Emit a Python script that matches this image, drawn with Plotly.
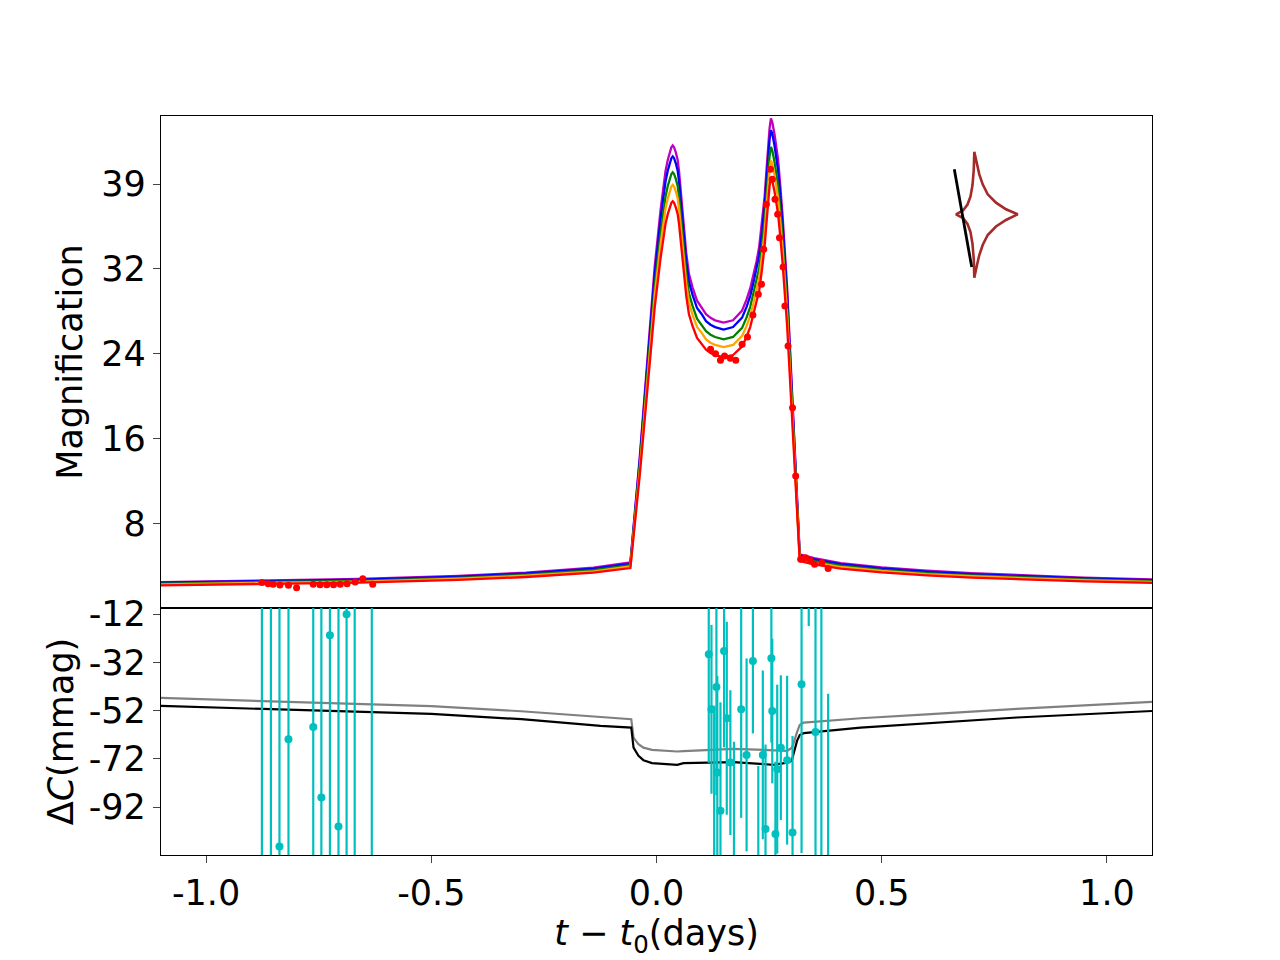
import plotly.graph_objects as go

# ---------------- model light curves (top panel) ----------------
t_model = [-1.1, -0.88, -0.66, -0.44, -0.29, -0.14, -0.058,
           -0.037, -0.017, -0.004, 0.009, 0.015, 0.02, 0.025, 0.029, 0.033, 0.036,
           0.039, 0.043, 0.047, 0.05, 0.055, 0.061, 0.066, 0.072, 0.08, 0.09,
           0.1, 0.11, 0.12, 0.13, 0.149, 0.17, 0.19, 0.2, 0.208, 0.215,
           0.222, 0.228, 0.234, 0.24, 0.244, 0.248, 0.251, 0.254, 0.257, 0.262,
           0.266, 0.27, 0.275, 0.28, 0.29, 0.30, 0.31,
           0.318, 0.35, 0.409, 0.5, 0.6, 0.7, 0.8, 0.95, 1.1]

mag_purple = [2.50, 2.62, 2.79, 3.07, 3.38, 3.83, 4.32,
              14.21, 24.79, 31.84, 37.07, 39.11, 40.70, 41.73, 42.41, 42.92, 43.09,
              42.92, 42.41, 41.73, 40.70, 38.09, 35.36, 33.09, 31.15, 29.90, 28.65,
              28.08, 27.40, 27.06, 26.83, 26.61, 26.83, 27.74, 28.77, 29.79, 31.04,
              32.29, 33.66, 35.82, 38.32, 40.70, 43.09, 44.68, 45.59, 45.25, 44.12,
              43.09, 41.73, 39.23, 36.50, 29.90, 21.49, 12.96,
              5.07, 4.72, 4.26, 3.87, 3.55, 3.32, 3.14, 2.92, 2.75]
mag_blue = [2.44, 2.55, 2.72, 3.00, 3.30, 3.74, 4.22,
            13.88, 24.20, 31.08, 36.19, 38.18, 39.74, 40.74, 41.40, 41.90, 42.07,
            41.90, 41.40, 40.74, 39.74, 37.19, 34.52, 32.30, 30.41, 29.19, 27.97,
            27.42, 26.75, 26.42, 26.20, 25.97, 26.20, 27.08, 28.08, 29.08, 30.30,
            31.52, 32.86, 34.97, 37.41, 39.74, 42.07, 43.62, 44.51, 44.18, 43.07,
            42.07, 40.74, 38.30, 35.63, 29.19, 20.98, 12.65,
            4.95, 4.61, 4.16, 3.77, 3.46, 3.24, 3.06, 2.85, 2.69]
mag_green = [2.36, 2.46, 2.62, 2.89, 3.18, 3.61, 4.07,
             13.39, 23.35, 29.99, 34.91, 36.84, 38.34, 39.31, 39.95, 40.43, 40.59,
             40.43, 39.95, 39.31, 38.34, 35.88, 33.31, 31.17, 29.35, 28.17, 26.99,
             26.45, 25.81, 25.49, 25.28, 25.06, 25.28, 26.13, 27.10, 28.06, 29.24,
             30.42, 31.70, 33.74, 36.09, 38.34, 40.59, 42.09, 42.95, 42.63, 41.55,
             40.59, 39.31, 36.95, 34.38, 28.17, 20.24, 12.21,
             4.78, 4.44, 4.02, 3.64, 3.34, 3.13, 2.96, 2.75, 2.59]
mag_orange = [2.29, 2.39, 2.55, 2.81, 3.09, 3.50, 3.95,
              13.00, 22.67, 29.12, 33.90, 35.78, 37.23, 38.17, 38.79, 39.26, 39.42,
              39.26, 38.79, 38.17, 37.23, 34.84, 32.34, 30.26, 28.50, 27.35, 26.21,
              25.69, 25.06, 24.75, 24.54, 24.34, 24.54, 25.38, 26.31, 27.25, 28.39,
              29.54, 30.78, 32.76, 35.05, 37.23, 39.42, 40.87, 41.70, 41.39, 40.35,
              39.42, 38.17, 35.88, 33.38, 27.35, 19.66, 11.86,
              4.64, 4.32, 3.90, 3.54, 3.24, 3.04, 2.87, 2.67, 2.52]
mag_red = [2.20, 2.30, 2.45, 2.70, 2.97, 3.37, 3.80,
           12.5, 21.8, 28.0, 32.6, 34.4, 35.8, 36.7, 37.3, 37.75, 37.9,
           37.75, 37.3, 36.7, 35.8, 33.5, 31.1, 29.1, 27.4, 26.3, 25.2,
           24.7, 24.1, 23.8, 23.6, 23.4, 23.6, 24.4, 25.3, 26.2, 27.3,
           28.4, 29.6, 31.5, 33.7, 35.8, 37.9, 39.3, 40.1, 39.8, 38.8,
           37.9, 36.7, 34.5, 32.1, 26.3, 18.9, 11.4,
           4.46, 4.15, 3.75, 3.40, 3.12, 2.92, 2.76, 2.57, 2.42]

# ---------------- observed magnification points ----------------
t_obs = [-0.876, -0.862, -0.851, -0.836, -0.817, -0.799, -0.762, -0.747, -0.732, -0.717,
         -0.702, -0.687, -0.669, -0.652, -0.630,
         0.120, 0.131, 0.142, 0.151, 0.164, 0.176, 0.190, 0.202, 0.214, 0.226,
         0.233, 0.238, 0.244, 0.253, 0.257, 0.263, 0.269, 0.273, 0.281, 0.285,
         0.292, 0.302, 0.309, 0.320, 0.331, 0.342, 0.351, 0.367, 0.381]
mag_obs = [2.45, 2.35, 2.30, 2.23, 2.20, 1.98, 2.30, 2.26, 2.26, 2.26,
           2.30, 2.35, 2.51, 2.82, 2.30,
           24.14, 23.73, 23.11, 23.51, 23.30, 23.11, 24.60, 25.28, 27.32, 29.25,
           30.18, 33.43, 37.61, 40.86, 39.94, 38.08, 36.68, 34.51, 31.78, 28.16,
           24.44, 18.71, 12.36, 4.62, 4.77, 4.46, 4.15, 4.30, 3.75]

# ---------------- colour residuals (bottom panel) ----------------
t_dc_model = [-1.1, -0.8, -0.5, -0.3, -0.124, -0.056, -0.051, -0.040, -0.029, -0.010,
              0.046, 0.06, 0.171, 0.26, 0.282, 0.290, 0.300, 0.304, 0.312, 0.318,
              0.327, 0.453, 0.6, 0.8, 1.1]
dc_gray = [-46.8, -48.4, -50.2, -52.3, -54.5, -55.6, -63.2, -66.0, -67.4, -68.3,
           -69.0, -68.8, -67.9, -68.4, -68.7, -68.7, -67.5, -65.8, -61.0, -58.0,
           -57.0, -55.2, -53.6, -51.3, -48.4]
dc_black = [-50.1, -51.7, -53.4, -55.6, -58.4, -59.1, -67.4, -70.8, -72.6, -73.8,
            -74.5, -73.8, -73.4, -74.5, -74.0, -73.6, -72.9, -70.0, -64.6, -62.2,
            -61.4, -59.1, -57.4, -54.9, -52.2]

t_dc = [-0.876, -0.856, -0.837, -0.817, -0.762, -0.744, -0.725, -0.706, -0.688, -0.670, -0.632,
        0.116, 0.150, 0.133, 0.122, 0.188, 0.214, 0.255, 0.257, 0.156, 0.322,
        0.353, 0.200, 0.236, 0.164, 0.135, 0.290, 0.276, 0.142, 0.242, 0.264,
        0.302, 0.268, 0.338, 0.366, 0.381, 0.172, 0.128, 0.226]
dc_obs = [10.0, 10.0, -108.4, -63.9, -58.8, -88.1, -20.8, -100.1, -12.1, -130.0, -130.0,
          -28.7, -27.3, -42.2, -51.5, -51.5, -31.5, -30.3, -52.2, -55.2, -41.1,
          -60.9, -70.4, -70.4, -73.6, -77.7, -72.6, -67.4, -93.6, -101.1, -103.2,
          -102.6, -76.3, 0.0, -130.0, -130.0, -125.0, -125.0, -125.0]
dc_err = [150, 150, 100, 100, 100, 100, 100, 100, 100, 150, 150,
          45, 40, 45, 35, 45, 30, 35, 30, 40, 70,
          70, 40, 35, 30, 40, 35, 30, 45, 35, 30,
          40, 35, 17, 140, 85, 60, 75, 50]

# ---------------- inset: caustic and source trajectory ----------------
caustic_x = [-0.234, -0.180, -0.134, -0.066, 0.034, 0.200, 0.400, 0.634,
             0.400, 0.200, 0.034, -0.066, -0.134, -0.180, -0.234,
             -0.245, -0.270, -0.310, -0.370, -0.460, -0.600,
             -0.460, -0.370, -0.310, -0.270, -0.245, -0.234]
caustic_y = [1.246, 0.994, 0.794, 0.594, 0.394, 0.226, 0.094, -0.006,
             -0.120, -0.250, -0.420, -0.620, -0.820, -1.020, -1.274,
             -0.900, -0.600, -0.360, -0.200, -0.080, -0.006,
             0.070, 0.190, 0.350, 0.580, 0.880, 1.246]
traj_x = [-0.634, -0.286]
traj_y = [0.894, -1.060]

# ---------------- axis ticks ----------------
mag_tickvals = [7.9, 15.8, 23.7, 31.6, 39.5]
mag_ticktext = ["8", "16", "24", "32", "39"]
dc_tickvals = [-12, -32, -52, -72, -92]
dc_ticktext = ["-12", "-32", "-52", "-72", "-92"]
t_tickvals = [-1.0, -0.5, 0.0, 0.5, 1.0]
t_ticktext = ["-1.0", "-0.5", "0.0", "0.5", "1.0"]

FONT = "DejaVu Sans"
FS = 35

fig = go.Figure()

model_series = [("m", mag_purple, "#BF00BF"), ("b", mag_blue, "#0000FF"),
                ("g", mag_green, "#008000"), ("o", mag_orange, "#FFA500"),
                ("r", mag_red, "#FF0000")]
for name, vals, col in model_series:
    fig.add_trace(go.Scatter(x=t_model, y=vals, mode="lines", name=name,
                             line=dict(color=col, width=2.3),
                             xaxis="x", yaxis="y", showlegend=False))

fig.add_trace(go.Scatter(x=t_obs, y=mag_obs, mode="markers",
                         marker=dict(color="#FF0000", size=7),
                         xaxis="x", yaxis="y", showlegend=False))

fig.add_trace(go.Scatter(x=t_dc_model, y=dc_gray, mode="lines",
                         line=dict(color="#808080", width=2.2),
                         xaxis="x2", yaxis="y2", showlegend=False))
fig.add_trace(go.Scatter(x=t_dc_model, y=dc_black, mode="lines",
                         line=dict(color="#000000", width=2.2),
                         xaxis="x2", yaxis="y2", showlegend=False))
fig.add_trace(go.Scatter(x=t_dc, y=dc_obs, mode="markers",
                         marker=dict(color="#00BFBF", size=8),
                         error_y=dict(type="data", array=dc_err, visible=True,
                                      color="#00BFBF", thickness=2.2, width=0),
                         xaxis="x2", yaxis="y2", showlegend=False, cliponaxis=True))

fig.add_trace(go.Scatter(x=caustic_x, y=caustic_y, mode="lines",
                         line=dict(color="#A52A2A", width=2.6),
                         xaxis="x3", yaxis="y3", showlegend=False))
fig.add_trace(go.Scatter(x=traj_x, y=traj_y, mode="lines",
                         line=dict(color="#000000", width=2.8),
                         xaxis="x3", yaxis="y3", showlegend=False))

split = (854 - 607) / 739

axis_common = dict(showline=True, linecolor="black", linewidth=1.3, mirror=True,
                   showgrid=False, zeroline=False,
                   tickfont=dict(family=FONT, size=FS, color="black"))

fig.update_layout(
    width=1280, height=960,
    margin=dict(l=153, r=136, t=108, b=113),
    paper_bgcolor="white", plot_bgcolor="white",
    font=dict(family=FONT, size=FS, color="black"),
    xaxis=dict(domain=[0, 1], anchor="y", range=[-1.1, 1.1], matches="x2",
               showticklabels=False, ticks="", **axis_common),
    yaxis=dict(domain=[split, 1], anchor="x", range=[0.09, 45.82],
               tickvals=mag_tickvals, ticktext=mag_ticktext,
               ticks="outside", ticklen=7, tickwidth=1.3,
               title=dict(text="Magnification", font=dict(family=FONT, size=FS), standoff=8),
               **axis_common),
    xaxis2=dict(domain=[0, 1], anchor="y2", range=[-1.1, 1.1],
                tickvals=t_tickvals, ticktext=t_ticktext,
                ticks="outside", ticklen=7, tickwidth=1.3,
                title=dict(text="<i>t</i> \u2212 <i>t</i><sub>0</sub>(days)",
                           font=dict(family=FONT, size=FS), standoff=2),
                **axis_common),
    yaxis2=dict(domain=[0, split], anchor="x2", range=[-111.9, -9.5],
                tickvals=dc_tickvals, ticktext=dc_ticktext,
                ticks="outside", ticklen=7, tickwidth=1.3,
                title=dict(text="\u0394<i>C</i>(mmag)", font=dict(family=FONT, size=FS), standoff=4),
                **axis_common),
    xaxis3=dict(domain=[(930 - 160) / 991, (1030 - 160) / 991], anchor="y3",
                range=[-1.1, 0.9], visible=False),
    yaxis3=dict(domain=[(854 - 290) / 739, (854 - 140) / 739], anchor="x3",
                range=[-1.54, 1.46], visible=False),
)

fig.write_html("out.html")
